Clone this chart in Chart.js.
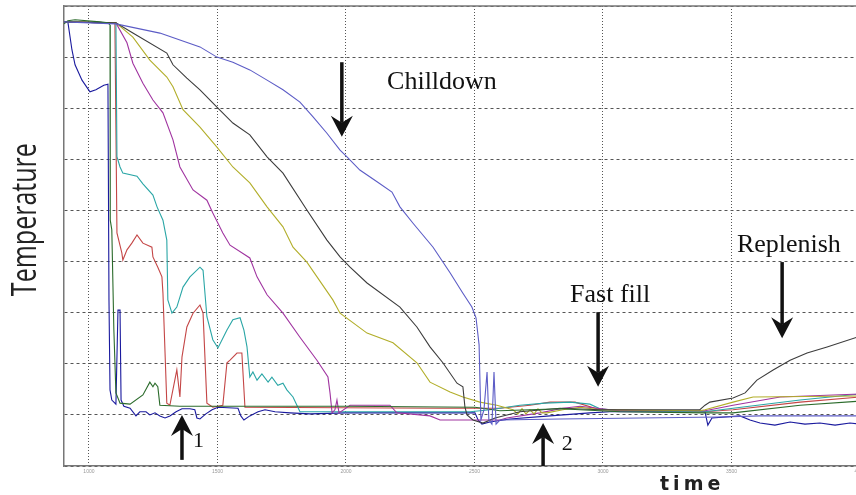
<!DOCTYPE html>
<html>
<head>
<meta charset="utf-8">
<title>Temperature</title>
<script src="https://cdn.jsdelivr.net/npm/chart.js@4.4.0/dist/chart.umd.min.js"></script>
<style>
html, body { margin: 0; padding: 0; background: #fff; overflow: hidden; }
#wrap { width: 870px; height: 495px; }
</style>
</head>
<body>
<div id="wrap"><canvas id="myChart"></canvas></div>
<script>
// sensor traces: time and temperature pairs
var tDarkBlue = [903, 918, 934, 946, 973, 1004, 1027, 1058, 1074, 1078, 1082, 1089, 1105, 1113, 1121, 1125, 1136, 1160, 1183, 1198, 1222, 1237, 1257, 1276, 1296, 1315, 1339, 1362, 1393, 1412, 1420, 1432, 1455, 1479, 1502, 1580, 1591, 1603, 1626, 1658, 1685, 1724, 1782, 1860, 2000, 2502, 2514, 2529, 2560, 2638, 2794, 2949, 3027, 3397, 3408, 3424, 3533, 3572, 3611, 3669, 3728, 3786, 3844, 3903, 3961, 4000];
var vDarkBlue = [86.9, 86.9, 81.4, 78.5, 75.5, 73.2, 73.6, 74.5, 74.7, 32.5, 14.9, 12.9, 12.1, 30.5, 30.5, 12.9, 11.7, 11.3, 9.8, 10.6, 10.6, 10.0, 10.4, 9.8, 9.4, 9.8, 10.6, 11.2, 11.2, 11.0, 9.4, 9.2, 10.2, 11.0, 11.5, 11.3, 9.8, 9.0, 9.8, 10.6, 11.0, 10.6, 10.4, 10.2, 10.4, 10.4, 9.0, 8.2, 8.6, 9.2, 9.8, 10.4, 10.6, 10.6, 8.0, 9.4, 9.8, 9.0, 8.4, 8.0, 8.6, 8.2, 8.4, 8.0, 8.4, 8.2];

var tSlowBlue = [903, 1105, 1276, 1432, 1498, 1560, 1626, 1693, 1755, 1821, 1872, 1926, 1977, 2004, 2054, 2121, 2179, 2210, 2261, 2339, 2405, 2455, 2490, 2506, 2518, 2525, 2537, 2549, 2556, 2568, 2576, 2584, 2599, 2833, 3144, 3455, 3611, 4000];
var vSlowBlue = [86.9, 86.5, 84.7, 82.0, 80.0, 79.0, 77.5, 75.5, 73.6, 71.2, 68.3, 65.1, 61.8, 60.5, 57.9, 55.6, 53.6, 50.7, 47.5, 42.8, 37.8, 33.8, 31.1, 29.0, 23.7, 9.0, 11.0, 18.4, 9.0, 8.2, 18.4, 8.2, 9.0, 9.2, 9.4, 9.6, 9.8, 9.8];

var tGreen = [903, 918, 946, 1043, 1074, 1082, 1083, 1089, 1097, 1105, 1121, 1160, 1210, 1237, 1249, 1257, 1268, 1276, 1354, 2000, 2502, 2599, 2833, 3066, 3397, 3506, 3767, 4000];
var vGreen = [86.5, 87.1, 87.3, 86.9, 86.7, 86.3, 48.1, 46.2, 26.6, 14.3, 12.3, 12.1, 13.9, 16.4, 15.5, 16.2, 15.5, 11.9, 11.7, 11.7, 11.5, 10.8, 11.2, 10.6, 10.4, 10.4, 11.9, 12.7];

var tBlack = [903, 1105, 1171, 1303, 1327, 1381, 1432, 1498, 1560, 1626, 1693, 1755, 1848, 1926, 1977, 2016, 2082, 2210, 2276, 2327, 2377, 2432, 2455, 2463, 2471, 2494, 2533, 2580, 2677, 2833, 2988, 3377, 3397, 3416, 3506, 3553, 3599, 3662, 3728, 3794, 3872, 4000];
var vBlack = [86.9, 86.7, 84.7, 80.8, 78.5, 75.9, 73.6, 70.2, 67.1, 64.8, 60.5, 57.3, 50.1, 44.2, 40.9, 38.9, 35.8, 31.1, 27.2, 23.3, 20.2, 16.2, 15.5, 11.5, 10.0, 9.0, 8.4, 9.4, 10.6, 11.3, 11.0, 11.0, 11.9, 12.5, 13.3, 14.3, 16.8, 18.8, 20.7, 22.1, 23.3, 25.4];

var tYellow = [903, 1105, 1171, 1237, 1303, 1327, 1366, 1432, 1498, 1560, 1626, 1693, 1755, 1794, 1848, 1949, 1977, 2082, 2183, 2276, 2327, 2405, 2455, 2521, 2587, 2650, 2669, 2685, 2700, 2716, 2732, 2747, 2763, 2782, 2844, 2911, 2988, 3377, 3397, 3506, 3584, 4000];
var vYellow = [86.9, 86.7, 83.9, 79.4, 76.1, 74.2, 69.7, 66.3, 62.4, 58.5, 55.4, 50.7, 46.8, 42.8, 39.9, 32.5, 29.9, 26.0, 24.1, 20.2, 16.4, 14.5, 13.5, 12.5, 11.9, 11.0, 10.2, 11.2, 10.2, 11.0, 10.2, 11.2, 10.4, 10.4, 11.0, 11.5, 11.0, 10.8, 11.0, 12.5, 13.5, 13.7];

var tMagenta = [903, 1105, 1148, 1171, 1210, 1249, 1288, 1327, 1354, 1405, 1459, 1482, 1521, 1549, 1626, 1654, 1693, 1755, 1821, 1887, 1930, 1938, 1946, 1957, 1965, 1973, 2016, 2171, 2198, 2327, 2366, 2599, 2626, 2755, 2844, 2911, 2977, 3066, 3397, 3506, 3689, 4000];
var vMagenta = [86.9, 86.7, 82.8, 78.8, 74.9, 71.6, 69.1, 63.8, 58.5, 54.0, 52.0, 49.5, 45.6, 43.2, 40.7, 37.0, 33.5, 29.9, 25.2, 20.7, 17.4, 14.3, 10.4, 11.0, 12.9, 10.4, 11.9, 11.9, 10.4, 9.8, 9.0, 9.0, 9.4, 10.4, 11.3, 11.7, 11.3, 10.8, 10.8, 11.9, 13.5, 14.1];

var tCyan = [903, 1105, 1109, 1121, 1132, 1187, 1210, 1249, 1265, 1288, 1303, 1307, 1323, 1342, 1366, 1393, 1432, 1444, 1459, 1482, 1502, 1537, 1560, 1588, 1603, 1615, 1626, 1638, 1654, 1673, 1697, 1712, 1735, 1755, 1770, 1794, 1821, 2327, 2483, 2560, 2677, 2774, 2872, 2949, 2988, 3066, 3397, 3506, 3767, 4000];
var vCyan = [86.9, 86.7, 60.5, 58.5, 57.3, 56.7, 55.2, 53.0, 50.7, 48.1, 44.2, 32.5, 29.9, 31.1, 35.0, 37.0, 38.9, 38.3, 29.2, 24.7, 23.1, 26.6, 28.6, 29.0, 26.6, 23.3, 17.4, 18.4, 16.8, 18.0, 16.4, 17.4, 15.8, 16.2, 14.9, 13.5, 10.6, 10.6, 10.6, 11.0, 11.9, 12.3, 12.5, 12.1, 11.2, 10.8, 10.6, 11.3, 12.9, 14.1];

var tRed = [903, 1101, 1109, 1128, 1132, 1148, 1167, 1187, 1210, 1245, 1249, 1268, 1284, 1288, 1303, 1315, 1342, 1354, 1362, 1381, 1405, 1432, 1444, 1459, 1482, 1521, 1537, 1549, 1576, 1595, 1607, 2366, 2599, 2716, 2794, 2891, 2988, 3397, 3506, 3767, 4000];
var vRed = [86.9, 86.7, 45.6, 41.7, 40.3, 42.3, 43.6, 45.2, 43.6, 42.8, 40.9, 38.9, 37.0, 33.8, 12.3, 11.9, 18.8, 13.5, 21.3, 27.2, 29.9, 31.5, 29.9, 12.3, 11.5, 11.9, 20.2, 20.7, 22.1, 22.1, 11.5, 11.3, 11.3, 11.9, 12.5, 12.5, 11.0, 10.6, 11.0, 12.5, 13.5];

// x grid / tick positions
var timeTicks = [1000, 1500, 2000, 2500, 3000, 3500, 4000];

// annotations: label text and where they sit, arrows from/to
var noteText = ['Chilldown', 'Fast fill', 'Replenish', '1', '2'];
var noteT = [2160, 2872, 3521, 1405, 2840];
var noteV = [73.8, 32.1, 41.9, 3.7, 3.1];
var arrowT = [1984, 2981, 3697, 1362, 2767];
var arrowFrom = [79.0, 30.1, 39.9, 1.2, 0];
var arrowTo = [64.4, 15.5, 25.0, 10.0, 8.4];

function pts(t, v) {
    return t.map(function (x, i) { return {x: x, y: v[i]}; });
}

function line(data, color) {
    return {
        data: data,
        borderColor: color,
        backgroundColor: color,
        borderWidth: 1.1,
        pointRadius: 0,
        fill: false,
        tension: 0
    };
}

function drawArrow(ctx, x, y0, y1) {
    var dir = y1 > y0 ? 1 : -1;
    var head = 21, half = 11, notch = 7;
    ctx.beginPath();
    ctx.moveTo(x, y0);
    ctx.lineTo(x, y1 - dir * (head - notch));
    ctx.stroke();
    ctx.beginPath();
    ctx.moveTo(x, y1);
    ctx.lineTo(x - half, y1 - dir * head);
    ctx.lineTo(x, y1 - dir * (head - notch));
    ctx.lineTo(x + half, y1 - dir * head);
    ctx.closePath();
    ctx.fill();
}

var notes = {
    id: 'notes',
    afterDraw: function (chart) {
        var ctx = chart.ctx;
        var xs = chart.scales.x, ys = chart.scales.y;
        var area = chart.chartArea;
        ctx.save();
        // top frame line
        ctx.strokeStyle = '#777';
        ctx.lineWidth = 1.5;
        ctx.beginPath();
        ctx.moveTo(area.left, area.top);
        ctx.lineTo(area.right, area.top);
        ctx.stroke();

        ctx.fillStyle = '#111';
        ctx.strokeStyle = '#111';
        ctx.lineWidth = 3.5;
        for (var i = 0; i < arrowT.length; i++) {
            drawArrow(ctx, xs.getPixelForValue(arrowT[i]), ys.getPixelForValue(arrowFrom[i]), ys.getPixelForValue(arrowTo[i]));
        }
        ctx.textBaseline = 'alphabetic';
        ctx.textAlign = 'left';
        for (var j = 0; j < noteText.length; j++) {
            ctx.font = (j < 3 ? 26 : 22) + 'px "Liberation Serif", "Times New Roman", serif';
            ctx.fillText(noteText[j], xs.getPixelForValue(noteT[j]), ys.getPixelForValue(noteV[j]));
        }

        // axis names
        ctx.fillStyle = '#222';
        ctx.font = 'bold 19px "DejaVu Sans", sans-serif';
        ctx.letterSpacing = '4px';
        ctx.fillText('time', xs.getPixelForValue(3222), area.bottom + 24);
        ctx.letterSpacing = '0px';

        ctx.font = '34px "Open Sans", "Liberation Sans", sans-serif';
        ctx.textAlign = 'center';
        ctx.textBaseline = 'middle';
        var w = ctx.measureText('Temperature').width;
        ctx.translate(26, ys.getPixelForValue(48.2));
        ctx.rotate(-Math.PI / 2);
        ctx.scale(153 / w, 1);
        ctx.fillText('Temperature', 0, 0);
        ctx.restore();
    }
};

var chart;
document.addEventListener("DOMContentLoaded", () => {
    var ctx = document.getElementById('myChart').getContext('2d');
    chart = new Chart(ctx, {
        type: 'line',
        data: {
            datasets: [
                line(pts(tSlowBlue, vSlowBlue), '#5c5cc6'),
                line(pts(tGreen, vGreen), '#2b6b2b'),
                line(pts(tBlack, vBlack), '#3c3c3c'),
                line(pts(tYellow, vYellow), '#b2ae2a'),
                line(pts(tMagenta, vMagenta), '#a034a0'),
                line(pts(tCyan, vCyan), '#2aa6a6'),
                line(pts(tRed, vRed), '#c44646'),
                line(pts(tDarkBlue, vDarkBlue), '#1a1a9e')
            ]
        },
        options: {
            responsive: true,
            maintainAspectRatio: false,
            animation: false,
            layout: {padding: {top: 6, right: 10, left: 0, bottom: 0}},
            plugins: {
                legend: {display: false},
                tooltip: {enabled: false}
            },
            scales: {
                x: {
                    type: 'linear',
                    min: 903,
                    max: 4000,
                    afterFit: function (scale) { scale.height = 29; },
                    afterBuildTicks: function (scale) {
                        scale.ticks = timeTicks.map(function (v) { return {value: v}; });
                    },
                    ticks: {
                        autoSkip: false,
                        maxRotation: 0,
                        padding: 3,
                        color: '#999',
                        font: {size: 5},
                        callback: function (v) { return String(v); }
                    },
                    grid: {color: '#555', lineWidth: 1, drawTicks: false},
                    border: {color: '#777', width: 1.5, dash: [1, 2]}
                },
                y: {
                    min: 0,
                    max: 90,
                    afterFit: function (scale) { scale.width = 64; },
                    ticks: {stepSize: 10, display: false},
                    grid: {color: '#555', lineWidth: 1, drawTicks: false},
                    border: {color: '#777', width: 1.5, dash: [3, 3]}
                }
            }
        },
        plugins: [notes]
    });
});
</script>
</body>
</html>
